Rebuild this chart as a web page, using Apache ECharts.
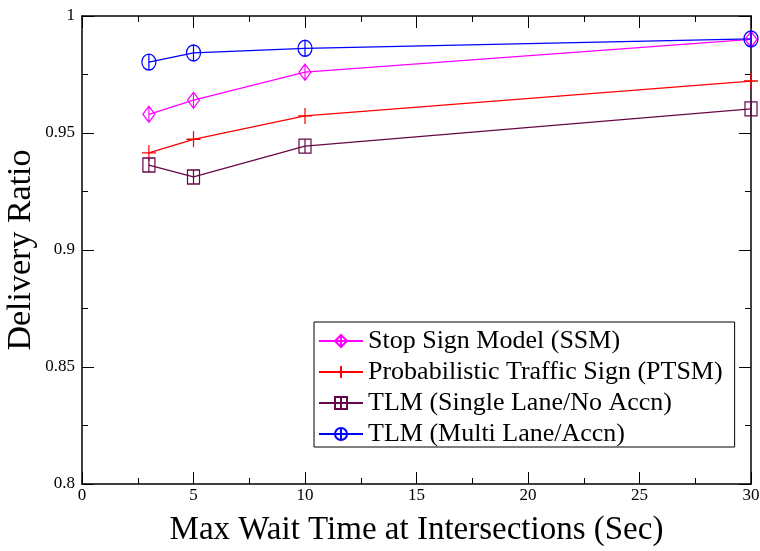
<!DOCTYPE html>
<html>
<head>
<meta charset="utf-8">
<script src="https://cdn.jsdelivr.net/npm/echarts@6/dist/echarts.min.js"></script>
<style>
  html, body { margin: 0; padding: 0; background: #fff; }
  #main { width: 760px; height: 551px; }
</style>
</head>
<body>
<div id="main"></div>
<script>
// wait times (sec)
var waitTimes = [3, 5, 10, 30];
// delivery ratio per model
var ssm = [0.958, 0.964, 0.976, 0.990];
var ptsm = [0.9415, 0.9473, 0.9573, 0.9722];
var tlmSingle = [0.9363, 0.9312, 0.9444, 0.9603];
var tlmMulti = [0.9803, 0.9842, 0.9862, 0.9902];
var names = ['Stop Sign Model (SSM)', 'Probabilistic Traffic Sign (PTSM)', 'TLM (Single Lane/No Accn)', 'TLM (Multi Lane/Accn)'];

var font = 'Liberation Serif';

// hollow markers, vertical stroke = zero-size error bar
var symDiamond = 'path://M0,-1L0.8,0L0,1L-0.8,0ZM0,-1L0,1';
var symPlus = 'path://M-1,0L1,0M0,-1L0,1';
var symSquare = 'path://M-1,-1L1,-1L1,1L-1,1ZM0,-1L0,1';
var symCircle = 'path://M0,-1A0.8,1 0 1,1 0,1A0.8,1 0 1,1 0,-1ZM0,-1L0,1';

function pairs(ys) {
    var out = [];
    for (var i = 0; i < waitTimes.length; i++) {
        out.push([waitTimes[i], ys[i]]);
    }
    return out;
}

function mkSeries(name, ys, color, sym, size) {
    return {
        name: name,
        type: 'line',
        data: pairs(ys),
        symbol: sym,
        symbolSize: size,
        showAllSymbol: true,
        lineStyle: { color: color, width: 1.3 },
        itemStyle: { color: 'rgba(255,255,255,0)', borderColor: color, borderWidth: 1.3 },
        emphasis: { disabled: true },
        animation: false
    };
}

var myChart = echarts.init(document.getElementById('main'), null, { renderer: 'canvas' });

var axisCommon = {
    axisLine: { show: true, onZero: false, lineStyle: { color: '#000', width: 1.5 } },
    axisTick: { show: true, inside: true, length: 12, lineStyle: { color: '#000', width: 1 } },
    minorTick: { show: true, splitNumber: 2, length: 6, lineStyle: { color: '#000', width: 1 } },
    splitLine: { show: false }
};

var option = {
    backgroundColor: '#fff',
    animation: false,
    grid: { left: 82, right: 9, top: 16, bottom: 67, outerBoundsMode: 'none', containLabel: false },
    xAxis: [
        Object.assign({
            type: 'value', min: 0, max: 30, interval: 5, position: 'bottom',
            name: 'Max Wait Time at Intersections (Sec)',
            nameLocation: 'middle', nameGap: 30, nameMoveOverlap: false,
            nameTextStyle: { fontFamily: font, fontSize: 33, color: '#000' },
            axisLabel: { fontFamily: font, fontSize: 17, color: '#000', margin: 3 }
        }, axisCommon),
        Object.assign({
            type: 'value', min: 0, max: 30, interval: 5, position: 'top',
            axisLabel: { show: false }
        }, axisCommon)
    ],
    yAxis: [
        Object.assign({
            type: 'value', min: 0.8, max: 1, interval: 0.05, position: 'left',
            name: 'Delivery Ratio',
            nameLocation: 'middle', nameGap: 44, nameMoveOverlap: false,
            nameTextStyle: { fontFamily: font, fontSize: 34, color: '#000' },
            axisLabel: {
                fontFamily: font, fontSize: 17, color: '#000', margin: 7,
                formatter: function (v) { return +v.toFixed(2) + ''; }
            }
        }, axisCommon),
        Object.assign({
            type: 'value', min: 0.8, max: 1, interval: 0.05, position: 'right',
            axisLabel: { show: false }
        }, axisCommon)
    ],
    legend: {
        orient: 'vertical',
        left: 314, top: 322,
        padding: [6, 12, 0, 4],
        itemGap: 5,
        itemWidth: 44,
        itemHeight: 15,
        borderColor: '#000',
        borderWidth: 1,
        borderRadius: 0,
        backgroundColor: '#fff',
        textStyle: { fontFamily: font, fontSize: 26, lineHeight: 26, color: '#000' },
        data: names
    },
    series: [
        mkSeries(names[0], ssm, '#ff00ff', symDiamond, [12, 16]),
        mkSeries(names[1], ptsm, '#ff0000', symPlus, [14, 16]),
        mkSeries(names[2], tlmSingle, '#670748', symSquare, [12, 14]),
        mkSeries(names[3], tlmMulti, '#0000ff', symCircle, [14, 16])
    ]
};

myChart.setOption(option);
</script>
</body>
</html>
